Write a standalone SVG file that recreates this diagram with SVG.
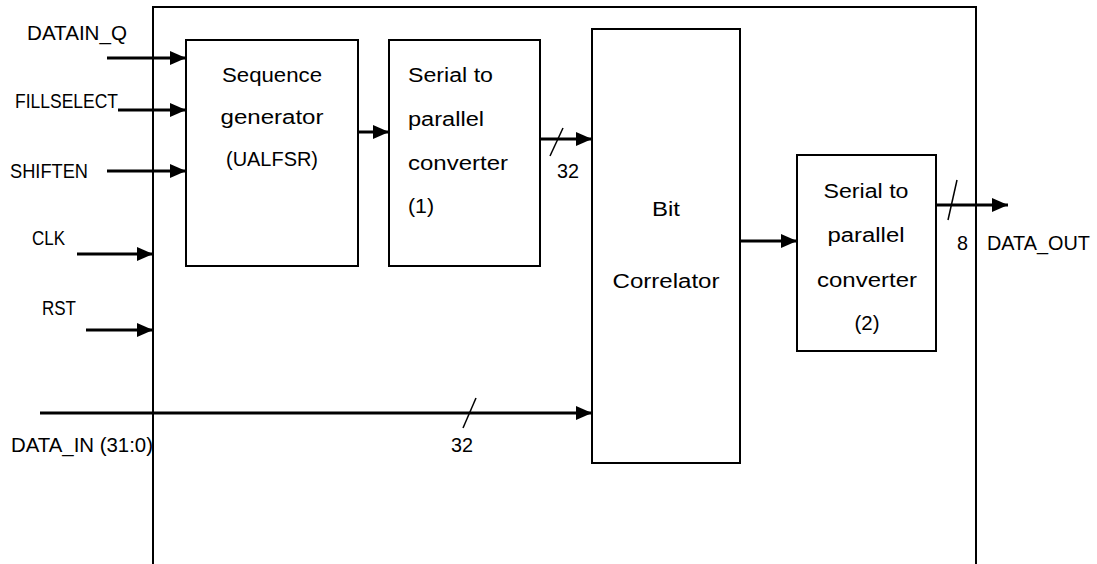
<svg xmlns="http://www.w3.org/2000/svg" width="1097" height="564" viewBox="0 0 1097 564">
  <style>
    .box { fill: #fff; stroke: #000; stroke-width: 2; }
    .frame { fill: none; stroke: #000; stroke-width: 2; }
    .wire { stroke: #000; stroke-width: 3; fill: none; }
    .slash { stroke: #000; stroke-width: 1.5; }
    text { font-family: "Liberation Sans", Arial, sans-serif; font-size: 20px; fill: #000; }
    .c { text-anchor: middle; }
  </style>
  <defs>
    <marker id="arr" viewBox="0 0 16 14" refX="16" refY="7" markerWidth="16" markerHeight="14" markerUnits="userSpaceOnUse" orient="auto">
      <path d="M0,0 L16,7 L0,14 Z" fill="#000"/>
    </marker>
  </defs>
  <rect width="1097" height="564" fill="#fff"/>

  <g id="frame">
    <path class="frame" d="M153,566 L153,7 L976,7 L976,566"/>
  </g>

  <g id="seqgen">
    <rect class="box" x="186" y="40" width="172" height="226"/>
    <text class="c" x="272" y="82" textLength="100" lengthAdjust="spacingAndGlyphs">Sequence</text>
    <text class="c" x="272" y="124" textLength="103" lengthAdjust="spacingAndGlyphs">generator</text>
    <text class="c" x="272" y="166" textLength="92" lengthAdjust="spacingAndGlyphs">(UALFSR)</text>
  </g>

  <g id="s2p1">
    <rect class="box" x="389" y="40" width="151" height="226"/>
    <text x="408" y="82" textLength="85" lengthAdjust="spacingAndGlyphs">Serial to</text>
    <text x="408" y="126" textLength="76" lengthAdjust="spacingAndGlyphs">parallel</text>
    <text x="408" y="170" textLength="100" lengthAdjust="spacingAndGlyphs">converter</text>
    <text x="408" y="213" textLength="26" lengthAdjust="spacingAndGlyphs">(1)</text>
  </g>

  <g id="bitcorr">
    <rect class="box" x="592" y="29" width="148" height="434"/>
    <text class="c" x="666" y="216" textLength="28" lengthAdjust="spacingAndGlyphs">Bit</text>
    <text class="c" x="666" y="288" textLength="107" lengthAdjust="spacingAndGlyphs">Correlator</text>
  </g>

  <g id="s2p2">
    <rect class="box" x="797" y="155" width="139" height="196"/>
    <text class="c" x="866" y="198" textLength="85" lengthAdjust="spacingAndGlyphs">Serial to</text>
    <text class="c" x="866" y="242" textLength="77" lengthAdjust="spacingAndGlyphs">parallel</text>
    <text class="c" x="867" y="287" textLength="100" lengthAdjust="spacingAndGlyphs">converter</text>
    <text class="c" x="867" y="330" textLength="25" lengthAdjust="spacingAndGlyphs">(2)</text>
  </g>

  <g id="labels">
    <text x="27" y="40" textLength="100" lengthAdjust="spacingAndGlyphs">DATAIN_Q</text>
    <text x="15" y="108" textLength="103" lengthAdjust="spacingAndGlyphs">FILLSELECT</text>
    <text x="10" y="178" textLength="78" lengthAdjust="spacingAndGlyphs">SHIFTEN</text>
    <text x="32" y="245" textLength="33" lengthAdjust="spacingAndGlyphs">CLK</text>
    <text x="42" y="315" textLength="34" lengthAdjust="spacingAndGlyphs">RST</text>
    <text x="11" y="452" textLength="142" lengthAdjust="spacingAndGlyphs">DATA_IN (31:0)</text>
    <text x="987" y="250" textLength="103" lengthAdjust="spacingAndGlyphs">DATA_OUT</text>
    <text x="451" y="452" textLength="22" lengthAdjust="spacingAndGlyphs">32</text>
    <text x="557" y="178" textLength="22" lengthAdjust="spacingAndGlyphs">32</text>
    <text x="957" y="250" textLength="11" lengthAdjust="spacingAndGlyphs">8</text>
  </g>

  <g id="connectors">
    <line class="wire" x1="107" y1="58" x2="186" y2="58" marker-end="url(#arr)"/>
    <line class="wire" x1="118" y1="110" x2="186" y2="110" marker-end="url(#arr)"/>
    <line class="wire" x1="107" y1="171" x2="186" y2="171" marker-end="url(#arr)"/>
    <line class="wire" x1="77" y1="254" x2="153" y2="254" marker-end="url(#arr)"/>
    <line class="wire" x1="86" y1="330" x2="153" y2="330" marker-end="url(#arr)"/>
    <line class="wire" x1="40" y1="413" x2="592" y2="413" marker-end="url(#arr)"/>
    <line class="wire" x1="358" y1="132" x2="389" y2="132" marker-end="url(#arr)"/>
    <line class="wire" x1="540" y1="139" x2="592" y2="139" marker-end="url(#arr)"/>
    <line class="wire" x1="740" y1="241" x2="797" y2="241" marker-end="url(#arr)"/>
    <line class="wire" x1="936" y1="205" x2="1008" y2="205" marker-end="url(#arr)"/>
    <line class="slash" x1="476" y1="398" x2="463" y2="428"/>
    <line class="slash" x1="563" y1="128" x2="550" y2="156"/>
    <line class="slash" x1="957" y1="180" x2="948" y2="220"/>
  </g>
</svg>
